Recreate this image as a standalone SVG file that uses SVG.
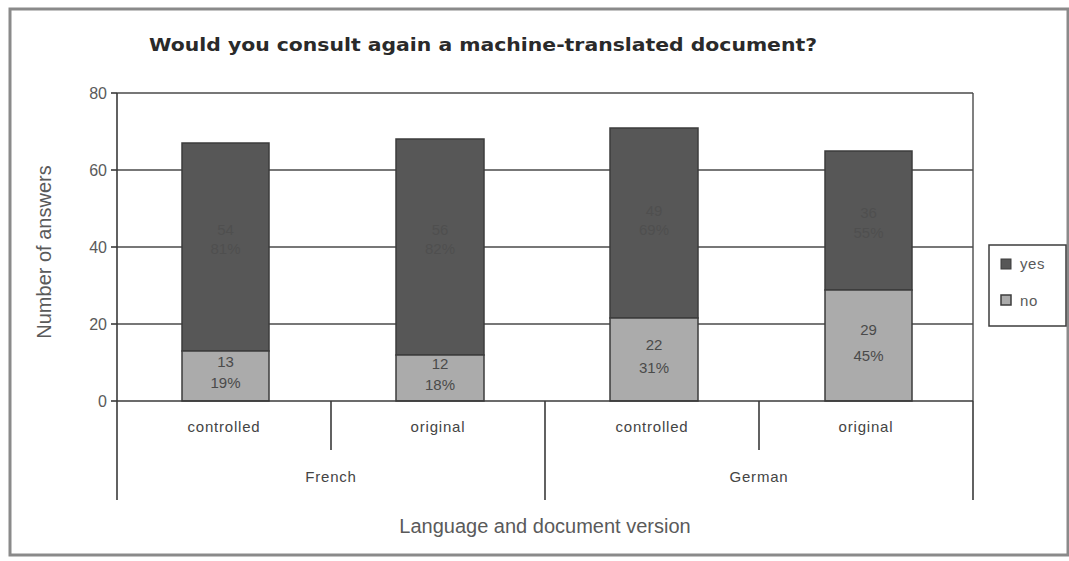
<svg xmlns="http://www.w3.org/2000/svg" width="1069" height="561" viewBox="0 0 1069 561">
  <style>
    .frame { fill: #ffffff; stroke: #8a8a8a; stroke-width: 3; }
    .axis { stroke: #3a3a3a; stroke-width: 1.6; fill: none; }
    .grid { stroke: #4a4a4a; stroke-width: 1.4; }
    .yes { fill: #575757; stroke: #3c3c3c; stroke-width: 1.5; }
    .no { fill: #ababab; stroke: #3c3c3c; stroke-width: 1.5; }
    .tick { font-family: "Liberation Sans", Arial, sans-serif; font-size: 16px; fill: #5a5a5a; text-anchor: end; }
    .cat { font-family: "Liberation Sans", Arial, sans-serif; font-size: 15px; fill: #444444; text-anchor: middle; letter-spacing: 0.8px; }
    .val { font-family: "Liberation Sans", Arial, sans-serif; font-size: 15px; fill: #4a4a4a; text-anchor: middle; }
    .valdark { font-family: "Liberation Sans", Arial, sans-serif; font-size: 15px; fill: #4f4f4f; text-anchor: middle; }
    .title { font-family: "DejaVu Sans", Verdana, sans-serif; font-size: 17px; font-weight: bold; fill: #2a2a2a; text-anchor: middle; }
    .axtitle { font-family: "Liberation Sans", Arial, sans-serif; font-size: 20px; fill: #5a5a5a; text-anchor: middle; }
    .leg { font-family: "Liberation Sans", Arial, sans-serif; font-size: 15px; fill: #5a5a5a; letter-spacing: 0.6px; }
  </style>

  <!-- outer frame -->
  <rect class="frame" x="10" y="9" width="1058" height="546"/>

  <!-- title -->
  <text class="title" x="483" y="51" textLength="668" lengthAdjust="spacingAndGlyphs">Would you consult again a machine-translated document?</text>

  <!-- gridlines and plot border -->
  <g id="grid">
    <line class="grid" x1="117" y1="93" x2="973" y2="93"/>
    <line class="grid" x1="117" y1="170" x2="973" y2="170"/>
    <line class="grid" x1="117" y1="247" x2="973" y2="247"/>
    <line class="grid" x1="117" y1="324" x2="973" y2="324"/>
    <line class="grid" x1="973" y1="93" x2="973" y2="401"/>
  </g>

  <!-- y axis with ticks -->
  <g id="y-axis">
    <line class="axis" x1="117" y1="93" x2="117" y2="500"/>
    <line class="axis" x1="111" y1="93" x2="117" y2="93"/>
    <line class="axis" x1="111" y1="170" x2="117" y2="170"/>
    <line class="axis" x1="111" y1="247" x2="117" y2="247"/>
    <line class="axis" x1="111" y1="324" x2="117" y2="324"/>
    <line class="axis" x1="111" y1="401" x2="117" y2="401"/>
    <text class="tick" x="107" y="99">80</text>
    <text class="tick" x="107" y="176">60</text>
    <text class="tick" x="107" y="253">40</text>
    <text class="tick" x="107" y="330">20</text>
    <text class="tick" x="107" y="407">0</text>
    <text class="axtitle" transform="translate(51 252) rotate(-90)">Number of answers</text>
  </g>

  <!-- stacked bars: yes on top of no -->
  <g id="bar-french-controlled">
    <rect class="yes" x="182" y="143" width="87" height="208"/>
    <rect class="no" x="182" y="351" width="87" height="50"/>
    <text class="valdark" x="225.5" y="235">54</text>
    <text class="valdark" x="225.5" y="254">81%</text>
    <text class="val" x="225.5" y="367">13</text>
    <text class="val" x="225.5" y="388">19%</text>
  </g>
  <g id="bar-french-original">
    <rect class="yes" x="396" y="139" width="88" height="216"/>
    <rect class="no" x="396" y="355" width="88" height="46"/>
    <text class="valdark" x="440" y="235">56</text>
    <text class="valdark" x="440" y="254">82%</text>
    <text class="val" x="440" y="369">12</text>
    <text class="val" x="440" y="390">18%</text>
  </g>
  <g id="bar-german-controlled">
    <rect class="yes" x="610" y="128" width="88" height="190"/>
    <rect class="no" x="610" y="318" width="88" height="83"/>
    <text class="valdark" x="654" y="216">49</text>
    <text class="valdark" x="654" y="235">69%</text>
    <text class="val" x="654" y="350">22</text>
    <text class="val" x="654" y="373">31%</text>
  </g>
  <g id="bar-german-original">
    <rect class="yes" x="825" y="151" width="87" height="139"/>
    <rect class="no" x="825" y="290" width="87" height="111"/>
    <text class="valdark" x="868.5" y="218">36</text>
    <text class="valdark" x="868.5" y="238">55%</text>
    <text class="val" x="868.5" y="335">29</text>
    <text class="val" x="868.5" y="361">45%</text>
  </g>

  <!-- x axis with grouped category dividers -->
  <g id="x-axis">
    <line class="axis" x1="117" y1="401" x2="973" y2="401"/>
    <line class="axis" x1="331" y1="401" x2="331" y2="450"/>
    <line class="axis" x1="759" y1="401" x2="759" y2="450"/>
    <line class="axis" x1="545" y1="401" x2="545" y2="500"/>
    <line class="axis" x1="973" y1="401" x2="973" y2="500"/>
    <text class="cat" x="224" y="432">controlled</text>
    <text class="cat" x="438" y="432">original</text>
    <text class="cat" x="652" y="432">controlled</text>
    <text class="cat" x="866" y="432">original</text>
    <text class="cat" x="331" y="482">French</text>
    <text class="cat" x="759" y="482">German</text>
    <text class="axtitle" x="545" y="533">Language and document version</text>
  </g>

  <!-- legend -->
  <g id="legend">
    <rect x="989" y="245" width="77" height="81" fill="#ffffff" stroke="#3c3c3c" stroke-width="1.5"/>
    <rect x="1001" y="259" width="10" height="10" fill="#575757" stroke="#3c3c3c" stroke-width="1"/>
    <text class="leg" x="1020" y="269">yes</text>
    <rect x="1001" y="295" width="10" height="10" fill="#ababab" stroke="#3c3c3c" stroke-width="1.5"/>
    <text class="leg" x="1020" y="306">no</text>
  </g>
</svg>
